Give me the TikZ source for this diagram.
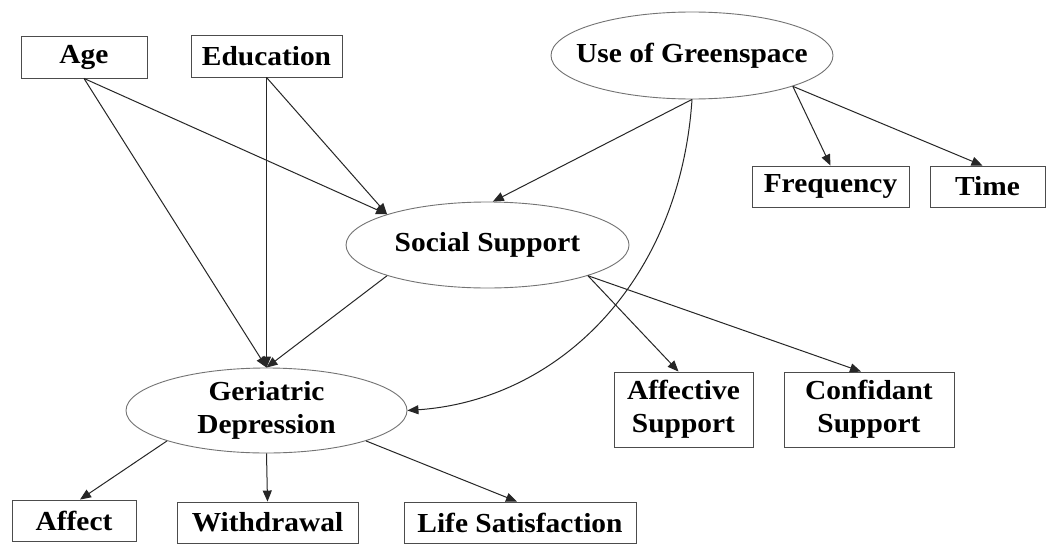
\documentclass[tikz,border=0pt]{standalone}
\usepackage{fontspec}
\setmainfont[FakeStretch=1.07]{Liberation Serif}
\usetikzlibrary{arrows.meta,shapes.geometric}
\tikzset{
  every node/.style={font=\fontsize{27.5}{33}\selectfont\bfseries, inner sep=0pt, align=center},
  boxnode/.style={draw=black!70, line width=0.9pt, rectangle},
  ellnode/.style={draw=black!55, line width=0.9pt, ellipse, inner xsep=-40pt, inner ysep=-12pt},
  link/.style={draw=black!85, line width=1pt, -{Triangle[length=11pt,width=9pt]}},
}
\begin{document}
\begin{tikzpicture}[x=1pt,y=-1pt]
\clip (0,0) rectangle (1051,543);
\fill[white] (0,0) rectangle (1051,543);
% boxes
\node[boxnode, minimum width=126pt, minimum height=42pt] (age) at (84,57) {Age};
\node[boxnode, minimum width=151pt, minimum height=42pt] (edu) at (266.5,56) {Education};
\node[boxnode, minimum width=157pt, minimum height=41pt] (freq) at (830.5,186.5) {Frequency};
\node[boxnode, minimum width=115pt, minimum height=41pt] (time) at (987.5,186.5) {Time};
\node[boxnode, minimum width=139pt, minimum height=75pt] (aff) at (683.5,409.5) {Affective\\Support};
\node[boxnode, minimum width=170pt, minimum height=75pt] (conf) at (869,409.5) {Confidant\\Support};
\node[boxnode, minimum width=124pt, minimum height=41pt] (affect) at (74,520.5) {Affect};
\node[boxnode, minimum width=181pt, minimum height=41pt] (wd) at (267.5,522.5) {Withdrawal};
\node[boxnode, minimum width=232pt, minimum height=41pt] (ls) at (520,522.5) {Life Satisfaction};
% ellipses
\node[ellnode, minimum width=282pt, minimum height=87pt] (gs) at (692,55.5) {Use of Greenspace};
\node[ellnode, minimum width=283pt, minimum height=86pt] (ss) at (487.5,245) {Social Support};
\node[ellnode, minimum width=281pt, minimum height=85pt] (ger) at (266.5,410.5) {Geriatric\\Depression};
% connectors
\draw[link] (age.south) -- (ss.163);
\draw[link] (age.south) -- (ger.north);
\draw[link] (edu.south) -- (ss.163);
\draw[link] (edu.south) -- (ger.north);
\draw[link] (gs.south) -- (ss.83);
\draw[link] (gs.south) .. controls (680,280) and (560,400) .. (ger.east);
\draw[link] (gs.-17) -- (freq.north);
\draw[link] (gs.-17) -- ([xshift=-5pt]time.north);
\draw[link] (ss.197) -- (ger.north);
\draw[link] (ss.-17) -- ([xshift=-5pt]aff.north);
\draw[link] (ss.-17) -- ([xshift=-8pt]conf.north);
\draw[link] (ger.197) -- ([xshift=6pt]affect.north);
\draw[link] (ger.south) -- (wd.north);
\draw[link] (ger.-17) -- ([xshift=-3pt]ls.north);
\end{tikzpicture}
\end{document}
